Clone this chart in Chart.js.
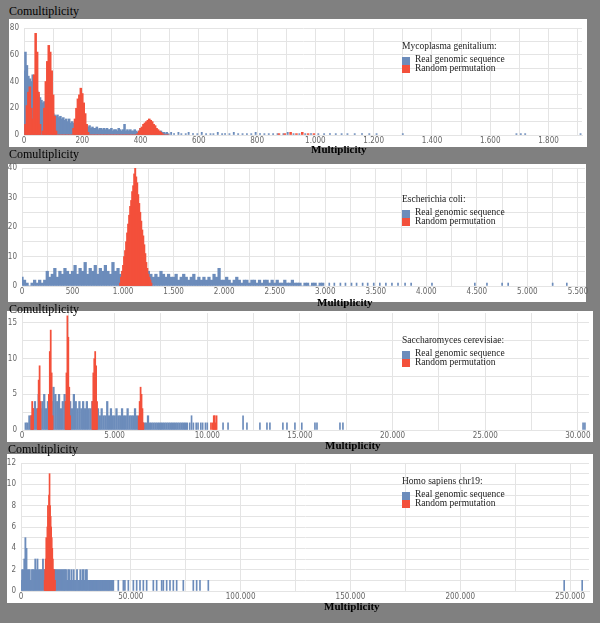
<!DOCTYPE html>
<html><head><meta charset="utf-8">
<script src="https://cdn.jsdelivr.net/npm/chart.js@4.4.0/dist/chart.umd.min.js"></script>
<style>
html,body{margin:0;padding:0;}
body{width:600px;height:623px;background:#808080;position:relative;overflow:hidden;font-family:'Liberation Serif','Times New Roman',serif;}
.panel{position:absolute;background:#fff;}
canvas{position:absolute;}
.t{position:absolute;white-space:nowrap;color:#000;}
.sw{position:absolute;width:8px;}
</style></head><body>
<script>
// ---------- DATA ----------
// Panel 1: Mycoplasma genitalium (bins of 5 from 0)
const mgBin = 5;
const mgReal = [48,62,52,44,42,40,45,38,36,33, 30,28,26,24,25,22,20,19,18,17,
  16,15,14,15,13,14,12,13,11,12, 10,12,9,10,9,8,9,8,7,8,
  7,7,6,7,6,7,5,6,5,5, 6,4,5,5,4,5,4,5,4,4,
  5,3,4,4,3,5,4,3,4,8, 3,4,3,4,3,3,4,3,2,3,
  5,3,3,2,3,2,3,2,3,2, 2,3,2,2,3,2,2,1,2,1];
const mgRandom = [0,8,22,32,36,20,12,45,76,62, 32,8,0,3,20,40,55,67,62,48,
  30,14,3,0,0,0,0,0,0,0, 0,0,0,0,5,12,20,27,30,35,
  31,24,16,8,2,0,0,0,0,0, 0,0,0,0,0,0,0,0,0,0,
  0,0,0,0,0,0,0,0,0,0, 0,0,0,0,0,0,0,0,1,3,
  5,6,8,9,10,11,12,11,10,8, 7,5,4,3,2,1,0,0,0,0];
const mgRealTailX = [505,515,530,540,555,565,580,595,610,625, 640,650,665,680,690,705,720,735,750,765,
  780,795,810,825,840,855,870,890,905,925, 945,965,985,1010,1030,1050,1070,1090,1110,1135,
  1160,1185,1210,1300,1690,1705,1720,1910];
const mgRealTailY = [2,1,2,1,1,2,1,1,2,1, 1,1,2,1,1,1,2,1,1,1,
  1,2,1,1,1,1,1,1,2,1, 1,1,1,1,1,1,1,1,1,1,
  1,1,1,1,1,1,1,1];
const mgRandomTailX = [875,895,915,935,955,975,995];
const mgRandomTailY = [1,1,2,1,2,1,1];

// Panel 2: Escherichia coli (real: bins of 25 from 0; random: bins of 10 from 970)
const ecBin = 25;
const ecReal = [3,2,1,0,1,2,1,2,1,2, 5,3,4,6,3,5,4,6,5,4,
  5,7,4,6,5,8,4,6,5,7, 4,6,5,7,5,4,8,5,6,4,
  5,4,3,4,5,3,4,5,4,3, 5,4,3,4,3,5,4,3,4,3,
  3,4,2,3,4,3,2,3,4,2, 3,2,3,2,3,2,4,3,6,2,
  2,3,2,1,2,3,2,1,2,2, 1,2,2,1,2,1,2,2,1,2,
  1,2,1,1,2,1,1,2,1,1, 1,0,1,1,0,1,1,0,1,1];
const ecRealTailX = [3040,3090,3150,3200,3260,3310,3370,3420,3480,3540,3600,3660,3720,3790,3850,4056,4480,4600,4750,4810,5250,5390];
const ecRealTailY = [1,1,1,1,1,1,1,1,1,1,1,1,1,1,1,1,1,1,1,1,1,1];
const ecRandomStart = 970, ecRandomBin = 10;
const ecRandom = [1,3,5,7,10,12,15,18,21,24,27,29,32,34,38,40,37,35,31,28,25,22,19,17,14,11,8,6,4,3,2,1];

// Panel 3: Saccharomyces cerevisiae (real: bins of 100 from 200)
const scStart = 200, scBin = 100;
const scReal = [1,1,2,2,3,4,3,5,3,4, 5,3,4,5,4,6,5,4,5,3,
  4,5,4,3,4,3,5,4,3,4, 3,4,3,4,3,3,4,3,2,3,
  2,3,2,2,4,2,3,2,2,3, 2,2,3,2,2,3,2,2,2,3,
  2,1,2,1,1,1,2,1,1,1, 1,1,1,1,1,1,1,1,1,1,
  1,1,1,1,1,1,1,1];
const scRealTailX = [9050,9150,9250,9400,9500,9650,9750,9900,10000,10850,11120,11930,12140,12840,13220,13380,14080,14300,14730,15100,15810,15920,17160,17320,30280,30380];
const scRealTailY = [1,2,1,1,1,1,1,1,1,1,1,2,1,1,1,1,1,1,1,1,1,1,1,1,1,1];
const scRandomX = [500,550,600, 850,900,950,1000, 1450,1500,1550,1600,1650, 2350,2400,2450,2500,2550,2600,
  3800,3850,3900,3950,4000,4050, 6300,6350,6400,6450,6500,6550, 10200,10300,10350,10400,10450,10500];
const scRandomY = [2,4,3, 3,7,9,4, 5,11,14,8,2, 4,8,16,13,6,2, 4,8,10,11,9,4, 2,4,6,5,3,1, 1,1,2,2,1,2];

// Panel 4: Homo sapiens chr19 (real: bins of 500 from 0; random: bins of 250 from 10750)
const hsBin = 500;
const hsReal = [1,2,2,3,5,4,2,2,2,1, 2,2,2,3,2,3,2,2,2,2,
  3,2,2,2,2,2,2,2,2,2, 2,2,2,2,2,2,2,2,2,2,
  2,2,1,2,2,1,2,1,2,1, 1,2,1,1,2,1,2,2,1,2,
  2,1,1,1,1,1,1,1,1,1, 1,1,1,1,1,1,1,1,1,1,
  1,1,1,1];
const hsRealTailX = [42050,44300,46600,47300,48870,51150,52660,54180,55700,57210,60250,61760,64040,64800,66320,67830,69350,70870,73900,78450,79970,81490,85280,247300,255500];
const hsRealTailY = [1,1,1,1,1,1,1,1,1,1,1,1,1,1,1,1,1,1,1,1,1,1,1,1,1];
const hsRandomStart = 10750, hsRandomBin = 250;
const hsRandom = [1,2,3,5,4,6,8,7,9,11,8,7,6,5,4,3,2,2,1,1];

const organisms = ['Mycoplasma genitalium:','Escherichia coli:','Saccharomyces cerevisiae:','Homo sapiens chr19:'];
const seriesNames = ['Real genomic sequence','Random permutation'];
const yTitle = 'Comultiplicity', xTitle = 'Multiplicity';

// ---------- HELPERS ----------
const BLUE = '#6c8cbb', RED = '#f3503b', GRID = '#e4e4e4', TICK = '#666';
const TICKFONT = "'Liberation Sans Narrow','DejaVu Sans Condensed','Liberation Sans',sans-serif";
function fmt(v){ return String(v).replace(/\B(?=(\d{3})+(?!\d))/g,'.'); }
function bins(start, step, vals){ return vals.map((v,i)=>({x:start+i*step, y:v})); }
function pts(xs, ys){ return xs.map((x,i)=>({x:x, y:ys[i]})); }
function tickList(max, step){ const t=[]; for (let i=0; i*step<=max+1e-9; i++) t.push({value: +(i*step).toFixed(6)}); return t; }

const panels = [
  {white:[9,19,587,147], area:[24,28,582,135], xMax:1915, xStep:100, xLab:200, yMax:80, yStep:10, yLab:20,
   real:bins(0,mgBin,mgReal), realW:1.9, realTail:pts(mgRealTailX,mgRealTailY), tailW:1.2,
   rand:bins(0,mgBin,mgRandom).concat(pts(mgRandomTailX,mgRandomTailY)), randW:1.9,
   leg:[402,48], yl:[9,12.5], xl:[311,151]},
  {white:[8,164,586,302], area:[22,168,585,286], xMax:5570, xStep:250, xLab:500, yMax:40, yStep:5, yLab:10,
   real:bins(0,ecBin,ecReal), realW:2.6, realTail:pts(ecRealTailX,ecRealTailY), tailW:1,
   rand:bins(ecRandomStart,ecRandomBin,ecRandom), randW:1.3,
   leg:[402,201], yl:[9,155.5], xl:[317,304]},
  {white:[7,311,593,442], area:[22,313,589,430], xMax:30600, xStep:2500, xLab:5000, yMax:16.4, yStep:2.5, yLab:5,
   real:bins(scStart,scBin,scReal), realW:1.6, realTail:pts(scRealTailX,scRealTailY), tailW:1,
   rand:pts(scRandomX,scRandomY), randW:1.1,
   leg:[402,342], yl:[9,310], xl:[325,447]},
  {white:[7,454,593,603], area:[21,463,589,591], xMax:258600, xStep:25000, xLab:50000, yMax:12, yStep:1, yLab:2,
   real:bins(0,hsBin,hsReal), realW:1.2, realTail:pts(hsRealTailX,hsRealTailY), tailW:1,
   rand:bins(hsRandomStart,hsRandomBin,hsRandom), randW:1,
   leg:[402,483], yl:[8,450], xl:[324,608]}
];

function addText(txt, x, cy, size, bold, color){
  const d = document.createElement('div');
  d.className = 't';
  d.textContent = txt;
  d.style.fontSize = size+'px';
  d.style.lineHeight = size+'px';
  d.style.left = x+'px';
  d.style.top = (cy - 0.615*size)+'px';
  if (bold) d.style.fontWeight = 'bold';
  if (color) d.style.color = color;
  d.style.zIndex = 5;
  document.body.appendChild(d);
}

panels.forEach((p, k) => {
  const [wl, wt, wr, wb] = p.white;
  const [al, at, ar, ab] = p.area;
  const pn = document.createElement('div');
  pn.className = 'panel';
  pn.style.left = wl+'px'; pn.style.top = wt+'px';
  pn.style.width = (wr-wl)+'px'; pn.style.height = (wb-wt)+'px';
  document.body.appendChild(pn);

  const padT = 10, padR = 10, xH = 14;
  const cl = wl, ct = at - padT, cw = ar + padR - cl, ch = ab + xH - ct;
  const cv = document.createElement('canvas');
  cv.width = cw; cv.height = ch;
  cv.style.left = cl+'px'; cv.style.top = ct+'px';
  cv.style.width = cw+'px'; cv.style.height = ch+'px';
  document.body.appendChild(cv);

  new Chart(cv, {
    type: 'bar',
    data: { datasets: [
      {label: seriesNames[1], data: p.rand, backgroundColor: RED, barThickness: p.randW, grouped:false, order:1, borderWidth:0},
      {label: seriesNames[0], data: p.real, backgroundColor: BLUE, barThickness: p.realW, grouped:false, order:2, borderWidth:0},
      {label: seriesNames[0]+' tail', data: p.realTail, backgroundColor: BLUE, barThickness: p.tailW, grouped:false, order:3, borderWidth:0}
    ]},
    options: {
      responsive:false, animation:false, devicePixelRatio:1,
      layout:{padding:{top:padT, right:padR, bottom:0, left:0}},
      plugins:{legend:{display:false}, tooltip:{enabled:false}},
      scales:{
        x:{type:'linear', min:0, max:p.xMax, offset:false,
           grid:{color:GRID, drawTicks:false, offset:false}, border:{color:GRID},
           afterBuildTicks:(s)=>{ s.ticks = tickList(p.xMax, p.xStep); },
           ticks:{autoSkip:false, maxRotation:0, minRotation:0, padding:1,
                  color:TICK, font:{family:TICKFONT, size:8},
                  callback:(v)=> (Math.abs(v % p.xLab) < 1e-6 ? fmt(v) : '')},
           afterFit:(s)=>{ s.height = xH; }},
        y:{type:'linear', min:0, max:p.yMax,
           grid:{color:GRID, drawTicks:false}, border:{color:GRID},
           afterBuildTicks:(s)=>{ s.ticks = tickList(p.yMax, p.yStep); },
           ticks:{autoSkip:false, padding:5,
                  color:TICK, font:{family:TICKFONT, size:8},
                  callback:(v)=> (Math.abs(v % p.yLab) < 1e-6 ? String(v) : '')},
           afterFit:(s)=>{ s.width = al - cl; }}
      }
    }
  });

  // axis titles
  addText(yTitle, p.yl[0], p.yl[1], 12, false);
  addText(xTitle, p.xl[0], p.xl[1], 11, true);
  // legend
  const [lx, ly] = p.leg;
  addText(organisms[k], lx, ly, 9.5, false, '#222');
  addText(seriesNames[0], lx+13, ly+12.5, 9.5, false, '#222');
  addText(seriesNames[1], lx+13, ly+21.5, 9.5, false, '#222');
  [[BLUE, 9],[RED, 17]].forEach(([c, off]) => {
    const s = document.createElement('div');
    s.className = 'sw';
    s.style.background = c;
    s.style.left = lx+'px'; s.style.top = (ly+off)+'px'; s.style.height = '8px';
    s.style.zIndex = 5;
    document.body.appendChild(s);
  });
});
</script>
</body></html>
